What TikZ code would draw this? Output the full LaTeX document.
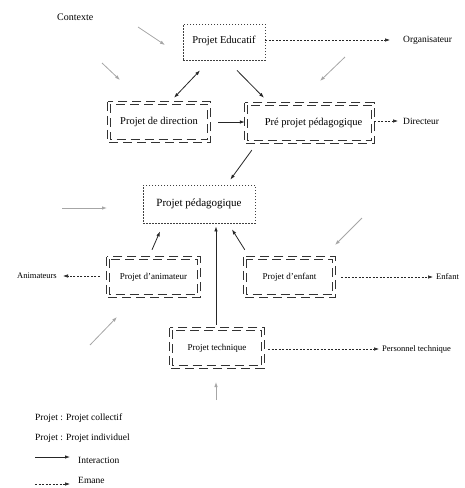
\documentclass[tikz,border=0pt]{standalone}
\usepackage{fontspec}
\setmainfont{Liberation Serif}
\usetikzlibrary{arrows.meta,calc}
\begin{document}
\begin{tikzpicture}[x=1pt,y=-1pt,
  collbox/.style={draw=black!75, line width=0.8pt, dash pattern=on 1.5pt off 1.5pt, rectangle, inner sep=0pt, font=\fontsize{10.5}{12}\selectfont},
  indbox/.style={rectangle, inner sep=0pt},
  dashline/.style={draw=black!80, line width=0.75pt, dash pattern=on 9pt off 5pt},
  lbl/.style={inner sep=0pt, font=\fontsize{8.5}{10}\selectfont},
  inter/.style={-{Latex[length=5pt,width=3.5pt]}, line width=0.8pt, black!85},
  emane/.style={-{Latex[length=5pt,width=3.5pt]}, line width=0.6pt, dash pattern=on 2pt off 1.5pt, black!85},
  ctx/.style={-{Latex[length=5pt,width=3.5pt]}, line width=0.8pt, black!35}]
\useasboundingbox (0,0) rectangle (464,488);

% boxes
\node[collbox, minimum width=82pt, minimum height=36pt] (edu) at (224,42) {\raisebox{4pt}{Projet Educatif}};
\node[indbox, minimum width=102pt, minimum height=40pt, font=\fontsize{10.5}{12}\selectfont] (dir) at (159,122) {\raisebox{3pt}{Projet de direction}};
\node[indbox, minimum width=129pt, minimum height=40pt, font=\fontsize{10.5}{12}\selectfont] (pre) at (309.5,123) {\hspace{8pt}\raisebox{3pt}{Pré projet pédagogique}};
\node[collbox, minimum width=112pt, minimum height=38pt, font=\fontsize{11}{13}\selectfont] (ped) at (199,204) {\raisebox{2pt}{Projet pédagogique}};
\node[indbox, minimum width=93pt, minimum height=40pt, font=\fontsize{9}{11}\selectfont] (anim) at (153.5,277) {Projet d’animateur};
\node[indbox, minimum width=91pt, minimum height=40pt, font=\fontsize{9}{11}\selectfont] (enf) at (289.5,277) {Projet d’enfant};
\node[indbox, minimum width=94pt, minimum height=40pt, font=\fontsize{9}{11}\selectfont] (tech) at (217,348) {Projet technique};

% double dashed borders of the individual projects
\foreach \b in {dir,pre,anim,enf,tech}{
  \draw[dashline] (\b.north west) rectangle (\b.south east);
  \draw[dashline] ($(\b.north west)+(2.4,2.4)$) rectangle ($(\b.south east)+(-2.4,-2.4)$);
}

% outer labels
\node[lbl, anchor=west, font=\fontsize{10}{12}\selectfont] (ctxt) at (57,17) {Contexte};
\node[lbl, anchor=west, font=\fontsize{9.5}{11}\selectfont] (org) at (403,40) {Organisateur};
\node[lbl, anchor=west, font=\fontsize{9.5}{11}\selectfont] (direc) at (403,121) {Directeur};
\node[lbl, anchor=east] (anims) at (57,276) {Animateurs};
\node[lbl, anchor=west] (enfant) at (436,277) {Enfant};
\node[lbl, anchor=west] (perso) at (382,349) {Personnel technique};

% interactions
\draw[inter, {Latex[length=5pt,width=3.5pt]}-{Latex[length=5pt,width=3.5pt]}] ($(dir.north)+(15,-4)$) -- ($(edu.south)+(-24,10)$);
\draw[inter] ($(edu.south)+(13,10)$) -- ($(pre.north)+(-45.5,-5)$);
\draw[inter] ($(dir.east)+(8,0)$) -- ($(pre.west)+(0,-1)$);
\draw[inter] ($(pre.south west)+(7,7)$) -- ($(ped.north east)+(-25,-5)$);
\draw[inter] ($(anim.north)+(-1.5,-7)$) -- ($(ped.south)+(-39,8)$);
\draw[inter] ($(tech.north)+(-1,-3)$) -- ($(ped.south)+(17,3)$);
\draw[inter] ($(enf.north west)+(1,-7)$) -- ($(ped.south)+(33,6)$);

% emane
\draw[emane] ($(edu.east)+(0,-2)$) -- ($(org.west)+(-13,0)$);
\draw[emane] ($(pre.east)+(0,-2)$) -- ($(direc.west)+(-5,0)$);
\draw[emane] ($(anim.west)+(-7,-1)$) -- ($(anims.east)+(6,0)$);
\draw[emane] ($(enf.east)+(6,0)$) -- ($(enfant.west)+(-3,0)$);
\draw[emane] ($(tech.east)+(4,1)$) -- ($(perso.west)+(-3,0)$);

% context arrows
\coordinate (c1a) at (138,27); \coordinate (c1b) at (165,45);
\coordinate (c2a) at (102,63); \coordinate (c2b) at (120,80);
\coordinate (c3a) at (345,57); \coordinate (c3b) at (320,81);
\coordinate (c4a) at (62,208); \coordinate (c4b) at (107,208);
\coordinate (c5a) at (362,218); \coordinate (c5b) at (335,245);
\coordinate (c6a) at (90,345); \coordinate (c6b) at (117,317);
\coordinate (c7a) at (216,400); \coordinate (c7b) at (216,382);
\draw[ctx] (c1a) -- (c1b);
\draw[ctx] (c2a) -- (c2b);
\draw[ctx] (c3a) -- (c3b);
\draw[ctx] (c4a) -- (c4b);
\draw[ctx] (c5a) -- (c5b);
\draw[ctx] (c6a) -- (c6b);
\draw[ctx] (c7a) -- (c7b);

% legend
\node[lbl, anchor=west, font=\fontsize{9.5}{11}\selectfont] (leg1) at (35,418) {Projet : Projet collectif};
\node[lbl, anchor=west, font=\fontsize{9.5}{11}\selectfont] (leg2) at (35,438) {Projet : Projet individuel};
\node[lbl, anchor=west, font=\fontsize{9.5}{11}\selectfont] (leg3) at (78,460) {Interaction};
\node[lbl, anchor=west, font=\fontsize{9.5}{11}\selectfont] (leg4) at (78,480) {Emane};
\coordinate (l3a) at (35,457); \coordinate (l4a) at (35,484);
\draw[inter] (l3a) -- ($(leg3.west)+(-8,-3)$);
\draw[emane] (l4a) -- ($(leg4.west)+(-8,4)$);
\end{tikzpicture}
\end{document}
